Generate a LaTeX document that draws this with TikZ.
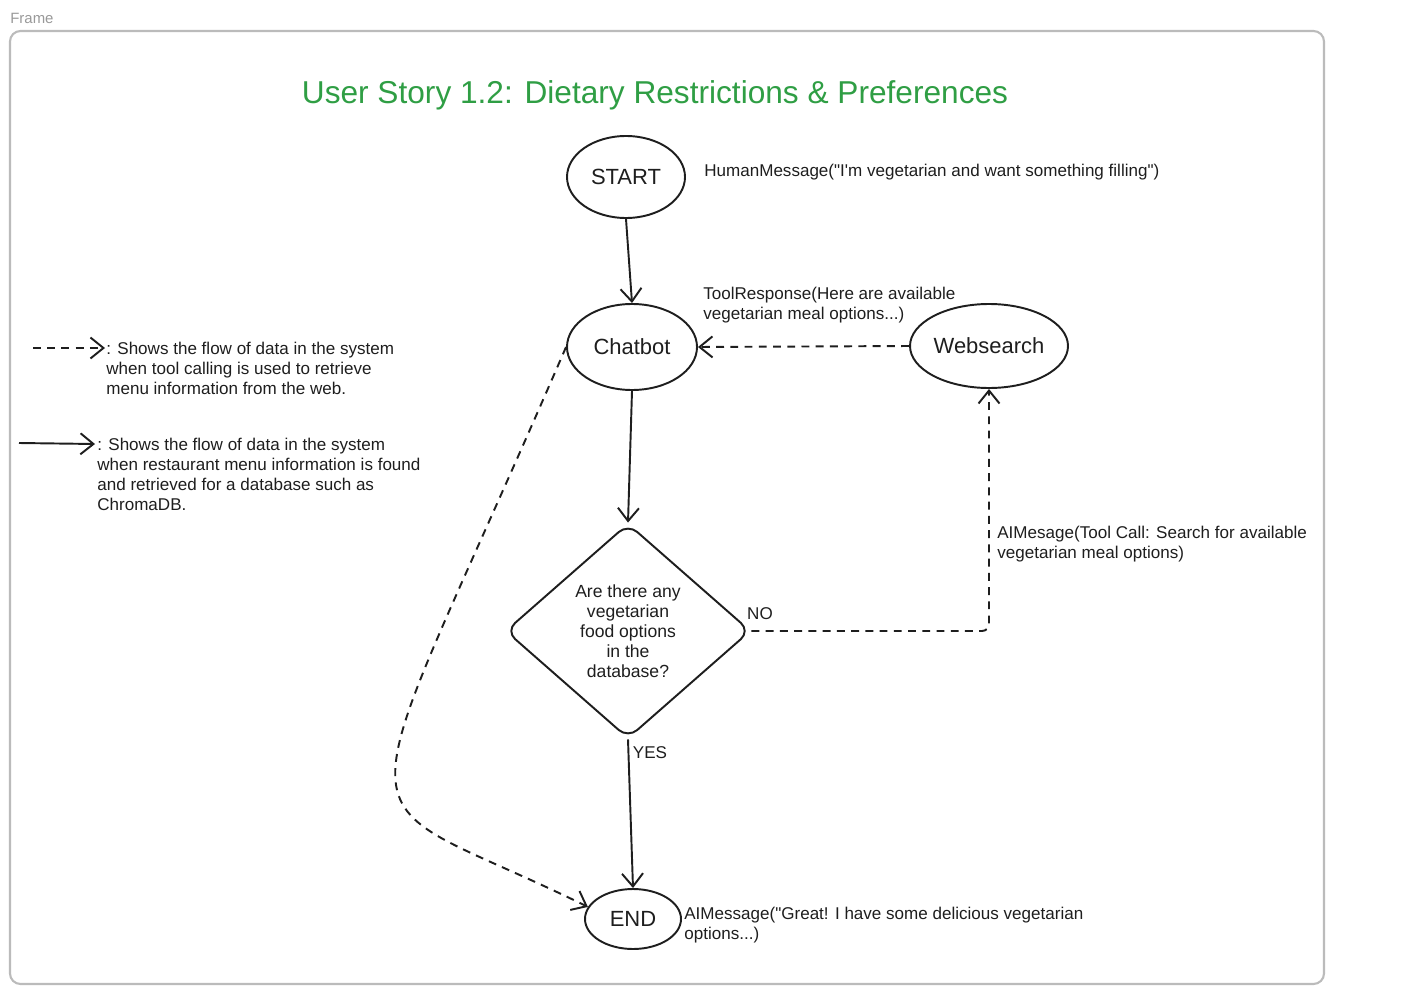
\documentclass[tikz,border=0pt]{standalone}
\usepackage{fontspec}
\setmainfont{Liberation Sans}[Ligatures=TeXOff]
\usetikzlibrary{arrows.meta,shapes.geometric}
\definecolor{inkc}{HTML}{1E1E1E}
\definecolor{framec}{HTML}{BBBBBB}
\definecolor{titlec}{HTML}{2F9E44}
\definecolor{labelc}{HTML}{999999}
\begin{document}
\begin{tikzpicture}[x=0.2mm,y=-0.2mm,
  ink/.style={draw=inkc, line width=1.1pt},
  tip/.style={-{Straight Barb[length=2.6mm,width=4.2mm,line width=1.1pt]}},
  flow/.style={ink, tip},
  dflow/.style={ink, tip, dash pattern=on 4.5pt off 3.6pt},
  oval/.style={ellipse, ink, inner sep=0pt, text=inkc, font=\fontsize{12.5}{15}\selectfont},
  note/.style={inner sep=0pt, text=inkc, align=left, font=\fontsize{9.7}{11.4}\selectfont},
  lbl/.style={inner sep=0pt, text=inkc, font=\fontsize{9.7}{11.4}\selectfont}]
\useasboundingbox (0,0) rectangle (1405,993);
% frame
\node[anchor=west, inner sep=0pt, text=labelc, font=\fontsize{8.5}{10}\selectfont] (framelbl) at (10,18) {Frame};
\draw[framec, line width=1.2pt, rounded corners=6pt] (10,31) rectangle (1324,984);
% title
\node[text=titlec, inner sep=0pt, font=\fontsize{18}{22}\selectfont] (title) at (655,95) {User Story 1.2: Dietary Restrictions \& Preferences};
% nodes
\node[oval, minimum width=118*0.2mm, minimum height=82*0.2mm] (start) at (626,177) {START};
\node[oval, minimum width=130*0.2mm, minimum height=86*0.2mm] (chat) at (632,347) {Chatbot};
\node[oval, minimum width=158*0.2mm, minimum height=84*0.2mm] (web) at (989,346) {Websearch};
\node[diamond, ink, inner sep=0pt, shape aspect=1.14, minimum width=245*0.2mm, minimum height=215*0.2mm, rounded corners=7pt, align=center, text=inkc, font=\fontsize{10}{11.4}\selectfont] (dia) at (628,631) {Are there any\\vegetarian\\food options\\in the\\database?};
\node[oval, minimum width=96*0.2mm, minimum height=60*0.2mm] (end) at (633,919) {END};
% messages
\node[note, anchor=west] (hm) at (704,172) {HumanMessage("I'm vegetarian and want something filling")};
\node[note, anchor=north west] (tr) at (703,287) {ToolResponse(Here are available\\vegetarian meal options...)};
\node[note, anchor=north west] (tc) at (997,526) {AIMesage(Tool Call: Search for available\\vegetarian meal options)};
\node[note, anchor=north west] (am) at (684,907) {AIMessage("Great! I have some delicious vegetarian\\options...)};
\node[lbl] (no) at (760,614) {NO};
\node[lbl] (yes) at (650,753) {YES};
% connectors
\draw[flow] (start.south) -- (chat.north);
\draw[flow] (chat.south) -- (dia.north);
\draw[flow] (dia.south) -- (end.north);
\draw[dflow] (web.west) -- (chat.east);
\draw[dflow, rounded corners=4pt] (dia.east) -| (web.south);
\draw[dflow] (chat.west) .. controls (340,870) and (330,780) .. (end.165);
% legend
\coordinate (l1a) at (33,348);
\coordinate (l1b) at (105,348);
\coordinate (l2a) at (19,443);
\coordinate (l2b) at (95,444);
\draw[dflow] (l1a) -- (l1b);
\draw[flow] (l2a) -- (l2b);
\node[note, anchor=north west] (leg1) at (106,342) {: Shows the flow of data in the system\\when tool calling is used to retrieve\\menu information from the web.};
\node[note, anchor=north west] (leg2) at (97,438) {: Shows the flow of data in the system\\when restaurant menu information is found\\and retrieved for a database such as\\ChromaDB.};
\end{tikzpicture}
\end{document}
